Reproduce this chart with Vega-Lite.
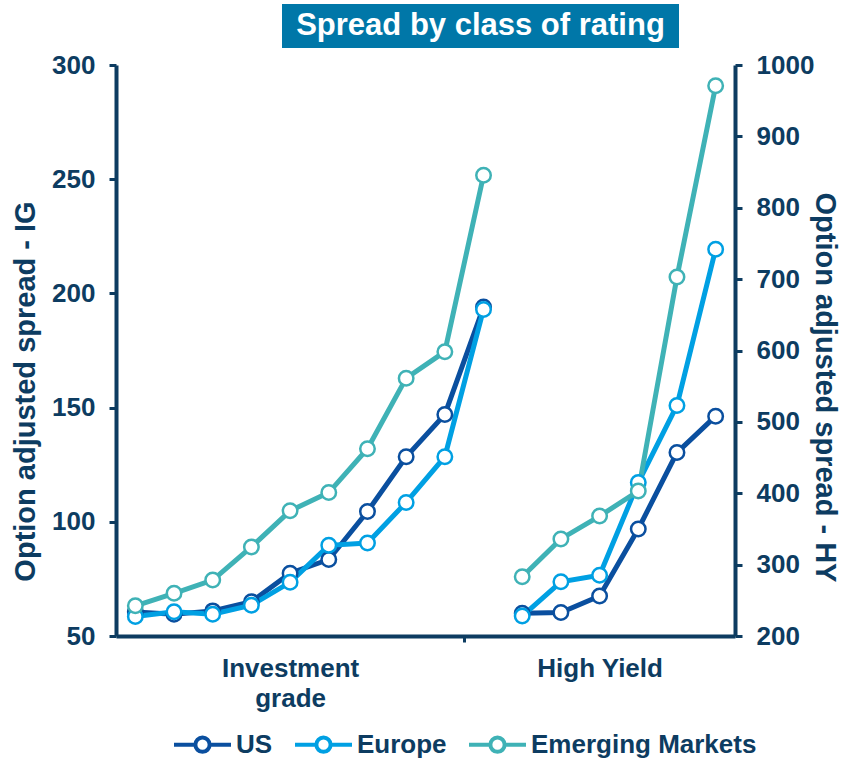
{
  "$schema": "https://vega.github.io/schema/vega-lite/v6.json",
  "padding": {"left": 11, "top": 4, "right": 0, "bottom": 0},
  "config": {
    "view": {"stroke": null},
    "font": "Liberation Sans",
    "concat": {"spacing": 4}
  },
  "datasets": {
    "spreads": [
      {"region": "US", "cls": "IG", "rating": "AAA", "rank": 1, "spread": 60.5},
      {"region": "US", "cls": "IG", "rating": "AA+", "rank": 2, "spread": 59.5},
      {"region": "US", "cls": "IG", "rating": "AA", "rank": 3, "spread": 61},
      {"region": "US", "cls": "IG", "rating": "AA-", "rank": 4, "spread": 65},
      {"region": "US", "cls": "IG", "rating": "A+", "rank": 5, "spread": 77.5},
      {"region": "US", "cls": "IG", "rating": "A", "rank": 6, "spread": 83.5},
      {"region": "US", "cls": "IG", "rating": "A-", "rank": 7, "spread": 104.5},
      {"region": "US", "cls": "IG", "rating": "BBB+", "rank": 8, "spread": 128.5},
      {"region": "US", "cls": "IG", "rating": "BBB", "rank": 9, "spread": 147},
      {"region": "US", "cls": "IG", "rating": "BBB-", "rank": 10, "spread": 194},
      {"region": "Europe", "cls": "IG", "rating": "AAA", "rank": 1, "spread": 58.5},
      {"region": "Europe", "cls": "IG", "rating": "AA+", "rank": 2, "spread": 60.6},
      {"region": "Europe", "cls": "IG", "rating": "AA", "rank": 3, "spread": 59.5},
      {"region": "Europe", "cls": "IG", "rating": "AA-", "rank": 4, "spread": 63.5},
      {"region": "Europe", "cls": "IG", "rating": "A+", "rank": 5, "spread": 73.5},
      {"region": "Europe", "cls": "IG", "rating": "A", "rank": 6, "spread": 89.7},
      {"region": "Europe", "cls": "IG", "rating": "A-", "rank": 7, "spread": 90.7},
      {"region": "Europe", "cls": "IG", "rating": "BBB+", "rank": 8, "spread": 108.5},
      {"region": "Europe", "cls": "IG", "rating": "BBB", "rank": 9, "spread": 128.5},
      {"region": "Europe", "cls": "IG", "rating": "BBB-", "rank": 10, "spread": 193},
      {"region": "Emerging Markets", "cls": "IG", "rating": "AAA", "rank": 1, "spread": 63.2},
      {"region": "Emerging Markets", "cls": "IG", "rating": "AA+", "rank": 2, "spread": 68.7},
      {"region": "Emerging Markets", "cls": "IG", "rating": "AA", "rank": 3, "spread": 74.5},
      {"region": "Emerging Markets", "cls": "IG", "rating": "AA-", "rank": 4, "spread": 89},
      {"region": "Emerging Markets", "cls": "IG", "rating": "A+", "rank": 5, "spread": 104.8},
      {"region": "Emerging Markets", "cls": "IG", "rating": "A", "rank": 6, "spread": 112.8},
      {"region": "Emerging Markets", "cls": "IG", "rating": "A-", "rank": 7, "spread": 132},
      {"region": "Emerging Markets", "cls": "IG", "rating": "BBB+", "rank": 8, "spread": 162.9},
      {"region": "Emerging Markets", "cls": "IG", "rating": "BBB", "rank": 9, "spread": 174.5},
      {"region": "Emerging Markets", "cls": "IG", "rating": "BBB-", "rank": 10, "spread": 251.7},
      {"region": "US", "cls": "HY", "rating": "BB+", "rank": 11, "spread": 232},
      {"region": "US", "cls": "HY", "rating": "BB", "rank": 12, "spread": 233},
      {"region": "US", "cls": "HY", "rating": "BB-", "rank": 13, "spread": 256},
      {"region": "US", "cls": "HY", "rating": "B+", "rank": 14, "spread": 350},
      {"region": "US", "cls": "HY", "rating": "B", "rank": 15, "spread": 457},
      {"region": "US", "cls": "HY", "rating": "B-", "rank": 16, "spread": 508},
      {"region": "Europe", "cls": "HY", "rating": "BB+", "rank": 11, "spread": 228},
      {"region": "Europe", "cls": "HY", "rating": "BB", "rank": 12, "spread": 276},
      {"region": "Europe", "cls": "HY", "rating": "BB-", "rank": 13, "spread": 285},
      {"region": "Europe", "cls": "HY", "rating": "B+", "rank": 14, "spread": 415},
      {"region": "Europe", "cls": "HY", "rating": "B", "rank": 15, "spread": 523},
      {"region": "Europe", "cls": "HY", "rating": "B-", "rank": 16, "spread": 742},
      {"region": "Emerging Markets", "cls": "HY", "rating": "BB+", "rank": 11, "spread": 283},
      {"region": "Emerging Markets", "cls": "HY", "rating": "BB", "rank": 12, "spread": 336},
      {"region": "Emerging Markets", "cls": "HY", "rating": "BB-", "rank": 13, "spread": 368},
      {"region": "Emerging Markets", "cls": "HY", "rating": "B+", "rank": 14, "spread": 403},
      {"region": "Emerging Markets", "cls": "HY", "rating": "B", "rank": 15, "spread": 703},
      {"region": "Emerging Markets", "cls": "HY", "rating": "B-", "rank": 16, "spread": 971}
    ],
    "heading": [{"title": "Spread by class of rating"}]
  },
  "vconcat": [
    {
      "spacing": 0,
      "hconcat": [
        {
          "width": 166,
          "height": 44,
          "data": {"values": []},
          "mark": "point"
        },
        {
          "width": 397,
          "height": 44,
          "view": {"fill": "#0077a8", "stroke": null},
          "data": {"name": "heading"},
          "mark": {"type": "text", "font": "Liberation Sans", "fontSize": 31, "fontWeight": "bold", "color": "#ffffff", "baseline": "middle", "align": "center"},
          "encoding": {"text": {"field": "title", "type": "nominal"}}
        }
      ]
    },
    {
      "width": 619,
      "height": 571,
      "data": {"name": "spreads"},
      "encoding": {
        "x": {
          "field": "rank",
          "type": "quantitative",
          "scale": {"domain": [0.5, 16.5], "nice": false, "zero": false},
          "axis": {
            "values": [5, 9.5, 13],
            "title": null,
            "grid": false,
            "domainColor": "#0d3c61",
            "domainWidth": 4,
            "tickSize": 6,
            "tickWidth": 3,
            "tickColor": {"condition": {"test": "datum.value == 9.5", "value": "#0d3c61"}, "value": "transparent"},
            "labelExpr": "datum.value == 5 ? ['Investment', 'grade'] : (datum.value == 13 ? 'High Yield' : '')",
            "labelFont": "Liberation Sans",
            "labelFontSize": 26,
            "labelFontWeight": "bold",
            "labelColor": "#0d3c61",
            "labelPadding": 13,
            "labelLineHeight": 30,
            "labelFlush": false,
            "labelOverlap": false
          }
        },
        "stroke": {
          "field": "region",
          "type": "nominal",
          "scale": {"domain": ["US", "Europe", "Emerging Markets"], "range": ["#0a4f9f", "#00a0e3", "#3fb2b6"]},
          "legend": {
            "orient": "none",
            "legendX": 56,
            "legendY": 710,
            "direction": "horizontal",
            "title": null,
            "symbolType": "M-1,0L-0.25,0M0.25,0L1,0M0.25,0A0.25,0.25 0 1,1 -0.25,0A0.25,0.25 0 1,1 0.25,0",
            "symbolSize": 3249,
            "symbolStrokeWidth": 4,
            "symbolFillColor": "#ffffff",
            "labelFont": "Liberation Sans",
            "labelFontSize": 26,
            "labelFontWeight": "bold",
            "labelColor": "#0d3c61",
            "labelOffset": 3,
            "labelLimit": 400,
            "columnPadding": 14,
            "encode": {"symbols": {"update": {"fill": {"value": "#ffffff"}, "strokeWidth": {"value": 4}, "opacity": {"value": 1}}}}
          }
        }
      },
      "layer": [
        {
          "transform": [{"filter": "datum.cls == 'IG'"}],
          "encoding": {
            "y": {
              "field": "spread",
              "type": "quantitative",
              "scale": {"domain": [50, 300], "nice": false, "zero": false},
              "axis": {
                "orient": "left",
                "values": [50, 100, 150, 200, 250, 300],
                "format": "d",
                "title": "Option adjusted spread - IG",
                "titleFont": "Liberation Sans",
                "titleFontSize": 29,
                "titleFontWeight": "bold",
                "titleColor": "#0d3c61",
                "titlePadding": 11,
                "titleY": 326,
                "grid": false,
                "domainColor": "#0d3c61",
                "domainWidth": 4,
                "tickColor": "#0d3c61",
                "tickWidth": 3,
                "tickSize": 7,
                "labelFont": "Liberation Sans",
                "labelFontSize": 26,
                "labelFontWeight": "bold",
                "labelColor": "#0d3c61",
                "labelPadding": 14,
                "labelFlush": false
              }
            }
          },
          "layer": [
            {"mark": {"type": "line", "strokeWidth": 5}},
            {"mark": {"type": "point", "shape": "circle", "filled": true, "fill": "#ffffff", "size": 210, "strokeWidth": 2.5, "opacity": 1}}
          ]
        },
        {
          "transform": [{"filter": "datum.cls == 'HY'"}],
          "encoding": {
            "y": {
              "field": "spread",
              "type": "quantitative",
              "scale": {"domain": [200, 1000], "nice": false, "zero": false},
              "axis": {
                "orient": "right",
                "values": [200, 300, 400, 500, 600, 700, 800, 900, 1000],
                "format": "d",
                "title": "Option adjusted spread - HY",
                "titleFont": "Liberation Sans",
                "titleFontSize": 29,
                "titleFontWeight": "bold",
                "titleColor": "#0d3c61",
                "titlePadding": -4,
                "titleY": 322,
                "grid": false,
                "domainColor": "#0d3c61",
                "domainWidth": 4,
                "tickColor": "#0d3c61",
                "tickWidth": 3,
                "tickSize": 7,
                "labelFont": "Liberation Sans",
                "labelFontSize": 26,
                "labelFontWeight": "bold",
                "labelColor": "#0d3c61",
                "labelPadding": 14,
                "labelFlush": false
              }
            }
          },
          "layer": [
            {"mark": {"type": "line", "strokeWidth": 5}},
            {"mark": {"type": "point", "shape": "circle", "filled": true, "fill": "#ffffff", "size": 210, "strokeWidth": 2.5, "opacity": 1}}
          ]
        }
      ],
      "resolve": {"scale": {"y": "independent"}}
    }
  ]
}
